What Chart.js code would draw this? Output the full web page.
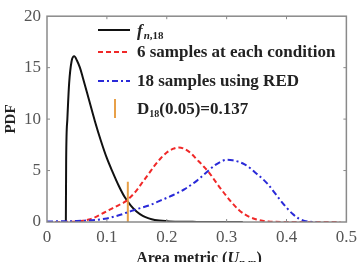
<!DOCTYPE html>
<html>
<head>
<meta charset="utf-8">
<script src="https://cdn.jsdelivr.net/npm/chart.js@4/dist/chart.umd.min.js"></script>
<style>
html,body{margin:0;padding:0;background:#fff;}
#wrap{width:362px;height:262px;}
</style>
</head>
<body>
<div id="wrap"><canvas id="c" width="362" height="262"></canvas></div>
<script>
// ---- data ----
const xTickLabels = ["0", "0.1", "0.2", "0.3", "0.4", "0.5"];
const yTickLabels = ["0", "5", "10", "15", "20"];

const fnX = [0.0315, 0.032, 0.034, 0.037, 0.041, 0.0455, 0.050, 0.055, 0.060, 0.070, 0.080, 0.090, 0.100, 0.110, 0.120, 0.130, 0.140, 0.150, 0.160, 0.170, 0.180, 0.200, 0.220, 0.250, 0.300, 0.327];
const fnY = [0, 6, 10, 13.5, 15.6, 16.1, 15.7, 15.0, 14.0, 11.9, 9.8, 7.9, 6.2, 4.8, 3.5, 2.4, 1.6, 1.0, 0.6, 0.35, 0.2, 0.08, 0.03, 0.01, 0, 0];

const redX = [0, 0.04, 0.05, 0.06, 0.07, 0.08, 0.09, 0.10, 0.11, 0.12, 0.13, 0.14, 0.15, 0.16, 0.17, 0.18, 0.19, 0.20, 0.21, 0.22, 0.23, 0.24, 0.25, 0.26, 0.27, 0.28, 0.29, 0.30, 0.31, 0.32, 0.33, 0.34, 0.35, 0.36, 0.37, 0.38, 0.40, 0.45, 0.49];
const redY = [0, 0.02, 0.05, 0.12, 0.25, 0.45, 0.75, 1.05, 1.35, 1.65, 1.95, 2.45, 3.1, 3.9, 4.7, 5.5, 6.2, 6.75, 7.1, 7.25, 7.1, 6.7, 6.1, 5.5, 4.85, 4.05, 3.25, 2.5, 1.8, 1.2, 0.75, 0.45, 0.25, 0.12, 0.05, 0.02, 0, 0, 0];

const blueX = [0, 0.05, 0.08, 0.10, 0.12, 0.135, 0.15, 0.17, 0.19, 0.21, 0.23, 0.25, 0.26, 0.27, 0.28, 0.29, 0.30, 0.31, 0.32, 0.33, 0.34, 0.35, 0.36, 0.37, 0.38, 0.39, 0.40, 0.41, 0.42, 0.43, 0.44, 0.45];
const blueY = [0.05, 0.1, 0.2, 0.35, 0.65, 0.95, 1.25, 1.6, 2.1, 2.6, 3.2, 4.0, 4.5, 5.0, 5.5, 5.85, 6.05, 6.0, 5.85, 5.6, 5.2, 4.7, 4.2, 3.6, 2.85, 2.1, 1.4, 0.8, 0.35, 0.1, 0.02, 0];

const dX = [0.135, 0.135];
const dY = [0, 3.9];

const legendLabels = ["6 samples at each condition", "18 samples using RED", "(0.05)=0.137"];
// ---------------

function pts(xs, ys){ return xs.map((x,i)=>({x:x, y:ys[i]})); }

const SERIF = '"Liberation Serif", "DejaVu Serif", serif';
const BLACK = '#111111';
const RED = '#f02828';
const BLUE = '#2a2ad8';
const ORANGE = '#e8a048';
const AXIS = '#8a8a8a';
const LF = 17;

const decor = {
  id: 'decor',
  afterDraw(chart){
    const ctx = chart.ctx;
    const a = chart.chartArea;
    const xs = chart.scales.x, ys = chart.scales.y;
    ctx.save();
    // box
    ctx.strokeStyle = AXIS;
    ctx.lineWidth = 1.5;
    ctx.strokeRect(a.left, a.top, a.right - a.left, a.bottom - a.top);
    // inward ticks
    ctx.lineWidth = 1;
    ctx.beginPath();
    for (let i = 1; i < xTickLabels.length - 1; i++){
      const px = xs.getPixelForValue(i * 0.1);
      ctx.moveTo(px, a.top); ctx.lineTo(px, a.top + 3);
      ctx.moveTo(px, a.bottom); ctx.lineTo(px, a.bottom - 3);
    }
    for (let i = 1; i < yTickLabels.length - 1; i++){
      const py = ys.getPixelForValue(i * 5);
      ctx.moveTo(a.left, py); ctx.lineTo(a.left + 3, py);
      ctx.moveTo(a.right, py); ctx.lineTo(a.right - 3, py);
    }
    ctx.stroke();

    // legend
    const lx0 = 98, lx1 = 130, tx = 137;
    ctx.lineWidth = 2;
    // item 1
    ctx.strokeStyle = BLACK; ctx.setLineDash([]);
    ctx.beginPath(); ctx.moveTo(lx0, 30); ctx.lineTo(lx1, 30); ctx.stroke();
    ctx.fillStyle = '#222';
    ctx.textBaseline = 'alphabetic';
    ctx.textAlign = 'left';
    ctx.font = 'italic bold 17px ' + SERIF;
    ctx.fillText('f', tx, 36);
    let w = ctx.measureText('f').width;
    ctx.font = 'italic bold 11px ' + SERIF;
    ctx.fillText('n', tx + w + 1, 39);
    let w2 = ctx.measureText('n').width;
    ctx.font = 'bold 11px ' + SERIF;
    ctx.fillText(',18', tx + w + 1 + w2, 39);
    // item 2
    ctx.strokeStyle = RED; ctx.setLineDash([5, 3]);
    ctx.beginPath(); ctx.moveTo(lx0, 52); ctx.lineTo(lx1, 52); ctx.stroke();
    ctx.font = 'bold ' + LF + 'px ' + SERIF;
    ctx.fillText(legendLabels[0], tx, 57);
    // item 3
    ctx.strokeStyle = BLUE; ctx.setLineDash([6, 3, 2, 3]);
    ctx.beginPath(); ctx.moveTo(lx0, 81); ctx.lineTo(lx1, 81); ctx.stroke();
    ctx.fillText(legendLabels[1], tx, 86);
    // item 4
    ctx.strokeStyle = ORANGE; ctx.setLineDash([]);
    ctx.beginPath(); ctx.moveTo(115, 99); ctx.lineTo(115, 118); ctx.stroke();
    ctx.font = 'bold ' + LF + 'px ' + SERIF;
    ctx.fillText('D', tx, 114);
    w = ctx.measureText('D').width;
    ctx.font = 'bold 10px ' + SERIF;
    ctx.fillText('18', tx + w, 117);
    w2 = ctx.measureText('18').width;
    ctx.font = 'bold ' + LF + 'px ' + SERIF;
    ctx.fillText(legendLabels[2], tx + w + w2, 114);

    // y title
    ctx.save();
    ctx.translate(11, 119);
    ctx.rotate(-Math.PI / 2);
    ctx.textAlign = 'center';
    ctx.textBaseline = 'middle';
    ctx.font = 'bold 15px ' + SERIF;
    ctx.fillStyle = '#222';
    ctx.fillText('PDF', 0, 0);
    ctx.restore();

    // x title
    ctx.fillStyle = '#222';
    ctx.textAlign = 'left';
    const p1 = 'Area metric (';
    const p2 = 'U';
    const p3 = 'n,m';
    const p4 = ')';
    ctx.font = 'bold 16px ' + SERIF; const w1 = ctx.measureText(p1).width;
    ctx.font = 'italic bold 16px ' + SERIF; const wU = ctx.measureText(p2).width;
    ctx.font = 'italic bold 11px ' + SERIF; const wS = ctx.measureText(p3).width;
    ctx.font = 'bold 16px ' + SERIF; const w4 = ctx.measureText(p4).width;
    let sx = 199 - (w1 + wU + wS + w4) / 2;
    const by = 263;
    ctx.font = 'bold 16px ' + SERIF; ctx.fillText(p1, sx, by); sx += w1;
    ctx.font = 'italic bold 16px ' + SERIF; ctx.fillText(p2, sx, by); sx += wU;
    ctx.font = 'italic bold 11px ' + SERIF; ctx.fillText(p3, sx, by + 3); sx += wS;
    ctx.font = 'bold 16px ' + SERIF; ctx.fillText(p4, sx, by);
    ctx.restore();
  }
};

new Chart(document.getElementById('c'), {
  type: 'line',
  data: {
    datasets: [
      { data: pts(blueX, blueY), borderColor: BLUE, borderWidth: 2, borderDash: [6, 3, 2, 3], pointRadius: 0, cubicInterpolationMode: 'monotone', fill: false },
      { data: pts(redX, redY), borderColor: RED, borderWidth: 2, borderDash: [5, 3], pointRadius: 0, cubicInterpolationMode: 'monotone', fill: false },
      { data: pts(dX, dY), borderColor: ORANGE, borderWidth: 2, pointRadius: 0, fill: false },
      { data: pts(fnX, fnY), borderColor: BLACK, borderWidth: 2, pointRadius: 0, cubicInterpolationMode: 'monotone', fill: false }
    ]
  },
  options: {
    responsive: false,
    animation: false,
    devicePixelRatio: 1,
    layout: { padding: { left: 0, right: 15, top: 14, bottom: 0 } },
    plugins: { legend: { display: false }, tooltip: { enabled: false } },
    scales: {
      x: {
        type: 'linear', min: 0, max: 0.5,
        grid: { display: false, drawTicks: false },
        border: { display: false },
        ticks: {
          stepSize: 0.1, padding: 5, color: '#555', maxRotation: 0,
          font: { family: SERIF, size: 17 },
          callback: (v, i) => xTickLabels[i]
        },
        afterFit: s => { s.height = 40; }
      },
      y: {
        min: 0, max: 20,
        grid: { display: false, drawTicks: false },
        border: { display: false },
        ticks: {
          stepSize: 5, padding: 6, color: '#555',
          font: { family: SERIF, size: 17 },
          callback: (v, i) => yTickLabels[i]
        },
        afterFit: s => { s.width = 47; }
      }
    }
  },
  plugins: [decor]
});
</script>
</body>
</html>
